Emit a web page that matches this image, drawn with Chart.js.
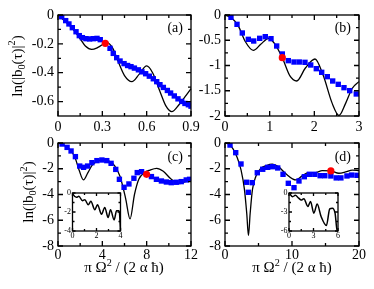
<!DOCTYPE html>
<html><head><meta charset="utf-8">
<script src="https://cdn.jsdelivr.net/npm/chart.js@4.4.0/dist/chart.umd.min.js"></script>
<style>
html,body{margin:0;padding:0;background:#fff;width:374px;height:289px;overflow:hidden}
canvas{position:absolute;left:0;top:0}
</style></head><body>
<canvas id="pa" width="374" height="289"></canvas>
<canvas id="pb" width="374" height="289"></canvas>
<canvas id="pc" width="374" height="289"></canvas>
<canvas id="pd" width="374" height="289"></canvas>
<canvas id="ic" width="374" height="289"></canvas>
<canvas id="id" width="374" height="289"></canvas>
<script>
// ---------- Panel (a) ----------
const aSqX = [0.025,0.052,0.074,0.097,0.122,0.144,0.165,0.189,0.214,0.239,0.264,0.286,0.352,0.374,0.397,0.42,0.447,0.471,0.494,0.517,0.544,0.568,0.593,0.618,0.645,0.668,0.69,0.713,0.74,0.762,0.787,0.812,0.837,0.859,0.882,0.9];
const aSqY = [-0.012,-0.039,-0.062,-0.088,-0.116,-0.143,-0.157,-0.164,-0.166,-0.164,-0.162,-0.171,-0.231,-0.266,-0.296,-0.319,-0.337,-0.35,-0.358,-0.368,-0.38,-0.394,-0.407,-0.424,-0.442,-0.462,-0.483,-0.502,-0.523,-0.541,-0.561,-0.581,-0.599,-0.613,-0.622,-0.632];
const aCurveX = [0,0.05,0.1,0.15,0.185,0.228,0.27,0.33,0.37,0.41,0.45,0.5,0.55,0.6,0.64,0.69,0.73,0.77,0.82,0.86,0.9];
const aCurveY = [0,-0.045,-0.095,-0.165,-0.215,-0.238,-0.225,-0.192,-0.23,-0.33,-0.42,-0.462,-0.41,-0.353,-0.4,-0.53,-0.63,-0.67,-0.62,-0.566,-0.51];
const aRed = [0.32, -0.196];
const aXTicks = [0, 0.3, 0.6, 0.9];
const aYTicks = [0, -0.2, -0.4, -0.6];

// ---------- Panel (b) ----------
const bSqX = [0.134,0.269,0.387,0.522,0.643,0.777,0.902,1.03,1.157,1.283,1.417,1.545,1.663,1.791,1.919,2.044,2.165,2.29,2.411,2.536,2.664,2.792,2.939];
const bSqY = [-0.046,-0.185,-0.356,-0.482,-0.515,-0.462,-0.429,-0.469,-0.614,-0.772,-0.904,-0.931,-0.931,-0.937,-0.99,-1.063,-1.135,-1.221,-1.307,-1.373,-1.439,-1.498,-1.564];
const bCurveX = [0,0.15,0.3,0.45,0.634,0.8,0.98,1.12,1.283,1.45,1.605,1.8,2.015,2.2,2.4,2.552,2.7,2.85,3.0];
const bCurveY = [0,-0.06,-0.22,-0.52,-0.7,-0.58,-0.46,-0.58,-0.845,-1.2,-1.307,-1.05,-0.871,-1.2,-1.75,-1.99,-1.75,-1.45,-1.32];
const bRed = [1.283, -0.845];
const bXTicks = [0, 1, 2, 3];
const bYTicks = [0, -0.5, -1, -1.5, -2];

// ---------- Panel (c) ----------
const cSqX = [0.37,0.82,1.18,1.57,1.96,2.31,2.67,3.06,3.51,3.96,4.40,4.79,5.21,5.54,5.96,6.40,6.85,7.15,7.54,8.43,8.88,9.33,9.78,10.22,10.67,11.12,11.57,11.87];
const cSqY = [-0.08,-0.34,-0.62,-1.06,-1.79,-1.89,-1.79,-1.53,-1.37,-1.32,-1.37,-1.58,-2.05,-2.82,-3.44,-3.18,-2.74,-2.30,-2.23,-2.61,-2.82,-2.95,-3.03,-3.08,-3.05,-3.0,-2.87,-2.82];
const cCurveX = [0,0.5,1,1.5,1.9,2.3,2.7,3.1,3.6,4.1,4.6,5.1,5.6,6.1,6.5,6.9,7.3,7.8,8.3,8.9,9.5,10.2,10.97,11.5,12];
const cCurveY = [0,-0.15,-0.45,-1.05,-2.1,-2.87,-2.3,-1.7,-1.4,-1.3,-1.4,-1.75,-2.6,-4.3,-5.9,-4.0,-2.8,-2.3,-2.1,-1.97,-2.2,-2.8,-3.15,-3.0,-2.85];
const cRed = [7.99, -2.43];
const cXTicks = [0, 4, 8, 12];
const cYTicks = [0, -2, -4, -6, -8];

// ---------- Panel (d) ----------
const dSqX = [0.75,1.6,2.39,3.24,3.48,4.08,4.82,5.63,6.37,7.12,7.87,8.66,9.45,10.3,11.04,11.84,12.6,13.4,14.2,14.9,15.8,16.6,17.3,18.2,18.9,19.7];
const dSqY = [-0.16,-0.75,-1.63,-3.05,-3.83,-3.08,-2.31,-2.04,-1.89,-1.84,-1.94,-2.43,-3.13,-3.47,-2.95,-2.62,-2.43,-2.43,-2.54,-2.54,-2.56,-2.71,-2.71,-2.56,-2.49,-2.51];
const dCurveX = [0,0.6,1.2,1.8,2.4,2.9,3.25,3.5,3.75,4.1,4.6,5.3,6.2,7.06,8,9,10.6,11.5,12.5,13.5,14.5,15.8,17,18,19,20];
const dCurveY = [0,-0.1,-0.45,-1.1,-2.1,-3.6,-5.5,-7.2,-5.5,-3.6,-2.6,-2.0,-1.75,-1.65,-1.85,-2.35,-2.87,-2.55,-2.3,-2.3,-2.15,-2.17,-2.35,-2.25,-2.1,-2.15];
const dRed = [15.8, -2.17];
const dXTicks = [0, 10, 20];
const dYTicks = [0, -2, -4, -6, -8];

// ---------- Insets ----------
const icX = [0,0.06,0.33,0.53,0.83,1.03,1.31,1.53,1.86,2.08,2.42,2.69,2.97,3.17,3.47,3.67,3.89,4.0];
const icY = [0,-0.18,-0.46,-0.35,-0.81,-0.71,-1.24,-0.88,-1.77,-1.24,-2.23,-1.52,-2.58,-1.77,-2.83,-1.88,-1.88,-3.9];
const icXTicks = [0, 2, 4];
const icYTicks = [0, -2, -4];
const idX = [0,0.04,0.45,0.77,1.18,1.5,1.82,2.31,2.64,3.04,3.45,3.93,4.58,4.99,5.31,5.64,5.88,6.0];
const idY = [0,-0.05,-0.58,-0.37,-0.8,-1.12,-0.9,-2.12,-1.33,-3.19,-1.75,-3.72,-5.15,-2.5,-2.39,-3.19,-5.84,-6.0];
const idXTicks = [0, 3, 6];
const idYTicks = [0, -3, -6];

const W = 374, H = 289;
const FONT = "'Liberation Serif','Times New Roman',serif";
const pts = (xs, ys) => xs.map((x, i) => ({x, y: ys[i]}));

function drawRich(ctx, parts, size) {
  const small = size * 0.68;
  const widths = parts.map(([t, m]) => { ctx.font = (m ? small : size) + 'px ' + FONT; return ctx.measureText(t).width; });
  const total = widths.reduce((s, w) => s + w, 0);
  let x = -total / 2;
  parts.forEach(([t, m], i) => {
    ctx.font = (m ? small : size) + 'px ' + FONT;
    const dy = m === 1 ? size * 0.22 : (m === -1 ? -size * 0.42 : 0);
    ctx.fillText(t, x, dy);
    x += widths[i];
  });
}
const X_TITLE = [['π Ω', 0], ['2', -1], [' / (2 α ħ)', 0]];
const Y_TITLE = [['ln(|b', 0], ['0', 1], ['(τ)|', 0], ['2', -1], [')', 0]];

function minorsOf(ticks) {
  const out = [];
  for (let i = 0; i < ticks.length - 1; i++) out.push((ticks[i] + ticks[i + 1]) / 2);
  return out;
}

const framePlugin = {
  id: 'frame',
  beforeDraw(chart, args, o) {
    if (o.bg) {
      const a = chart.chartArea, ctx = chart.ctx;
      ctx.save(); ctx.fillStyle = o.bg; ctx.fillRect(a.left, a.top, a.width, a.height); ctx.restore();
    }
  },
  afterDraw(chart, args, o) {
    const {ctx, chartArea: a, scales: {x, y}} = chart;
    ctx.save();
    ctx.strokeStyle = '#000';
    ctx.lineWidth = o.lw;
    ctx.beginPath();
    const tx = (vals, len) => vals.forEach(v => {
      const p = x.getPixelForValue(v);
      ctx.moveTo(p, a.bottom); ctx.lineTo(p, a.bottom - len);
      ctx.moveTo(p, a.top); ctx.lineTo(p, a.top + len);
    });
    const ty = (vals, len) => vals.forEach(v => {
      const p = y.getPixelForValue(v);
      ctx.moveTo(a.left, p); ctx.lineTo(a.left + len, p);
      ctx.moveTo(a.right, p); ctx.lineTo(a.right - len, p);
    });
    tx(o.xMajor, o.maj); tx(minorsOf(o.xMajor), o.min);
    ty(o.yMajor, o.maj); ty(minorsOf(o.yMajor), o.min);
    ctx.stroke();
    ctx.strokeRect(a.left, a.top, a.width, a.height);
    ctx.fillStyle = '#000';
    if (o.label) {
      ctx.font = '14px ' + FONT;
      ctx.textAlign = 'right'; ctx.textBaseline = 'middle';
      ctx.fillText(o.label, a.right - 8, a.top + o.labelDy);
    }
    ctx.textAlign = 'left'; ctx.textBaseline = 'alphabetic';
    if (o.yTitle) {
      ctx.save(); ctx.translate(o.yTitle[0], o.yTitle[1]); ctx.rotate(-Math.PI / 2);
      drawRich(ctx, Y_TITLE, 15); ctx.restore();
    }
    if (o.xTitle) {
      ctx.save(); ctx.translate(o.xTitle[0], o.xTitle[1]);
      drawRich(ctx, X_TITLE, 15); ctx.restore();
    }
    ctx.restore();
  }
};

function makePanel(id, box, xr, yr, xTicks, yTicks, datasets, f, fontSize, yw, xh, pad) {
  return new Chart(document.getElementById(id), {
    type: 'scatter',
    data: {datasets},
    plugins: [framePlugin],
    options: {
      responsive: false, animation: false, devicePixelRatio: 1,
      events: [],
      layout: {padding: {left: box.l - yw, right: W - box.r, top: box.t, bottom: H - box.b - xh}},
      plugins: {legend: {display: false}, tooltip: {enabled: false},
        frame: Object.assign({xMajor: xTicks, yMajor: yTicks}, f)},
      scales: {
        x: {type: 'linear', min: xr[0], max: xr[1],
          afterFit: s => { s.height = xh; },
          afterBuildTicks: s => { s.ticks = xTicks.map(v => ({value: v})); },
          ticks: {font: {family: FONT, size: fontSize}, color: '#000', padding: pad[0], maxRotation: 0, autoSkip: false, callback: v => String(v)},
          grid: {display: false, drawTicks: false}, border: {display: false}},
        y: {type: 'linear', min: yr[0], max: yr[1],
          afterFit: s => { s.width = yw; },
          afterBuildTicks: s => { s.ticks = yTicks.map(v => ({value: v})); },
          ticks: {font: {family: FONT, size: fontSize}, color: '#000', padding: pad[1], autoSkip: false, callback: v => String(v)},
          grid: {display: false, drawTicks: false}, border: {display: false}}
      }
    }
  });
}

function mainSets(cx, cy, sx, sy, red) {
  return [
    {type: 'line', data: pts(cx, cy), borderColor: '#000', borderWidth: 1.3, pointRadius: 0, cubicInterpolationMode: 'monotone', fill: false, order: 3, clip: 1},
    {data: pts(sx, sy), pointStyle: 'rect', pointRadius: 3.8, backgroundColor: '#0000ff', borderWidth: 0, showLine: false, order: 2, clip: 0},
    {data: [{x: red[0], y: red[1]}], pointStyle: 'circle', pointRadius: 3.6, backgroundColor: '#ff0000', borderWidth: 0, showLine: false, order: 1, clip: 0}
  ];
}

const mainF = {lw: 1.3, maj: 5, min: 3};
const TOP = {t: 15, b: 116}, BOT = {t: 143, b: 246};
const LEFT = {l: 58, r: 191}, RIGHT = {l: 225, r: 359};

makePanel('pa', Object.assign({}, LEFT, TOP), [0, 0.9], [-0.7, 0], aXTicks, aYTicks,
  mainSets(aCurveX, aCurveY, aSqX, aSqY, aRed),
  Object.assign({label: '(a)', labelDy: 13, yTitle: [21.5, 66]}, mainF), 14, 52, 26, [3, 4]);
makePanel('pb', Object.assign({}, RIGHT, TOP), [0, 3], [-2, 0], bXTicks, bYTicks,
  mainSets(bCurveX, bCurveY, bSqX, bSqY, bRed),
  Object.assign({label: '(b)', labelDy: 13}, mainF), 14, 52, 26, [3, 4]);
makePanel('pc', Object.assign({}, LEFT, BOT), [0, 12], [-8, 0], cXTicks, cYTicks,
  mainSets(cCurveX, cCurveY, cSqX, cSqY, cRed),
  Object.assign({label: '(c)', labelDy: 14.5, yTitle: [33, 192], xTitle: [124, 272]}, mainF), 14, 52, 22, [1, 4]);
makePanel('pd', Object.assign({}, RIGHT, BOT), [0, 20], [-8, 0], dXTicks, dYTicks,
  mainSets(dCurveX, dCurveY, dSqX, dSqY, dRed),
  Object.assign({label: '(d)', labelDy: 14.5, xTitle: [292, 272]}, mainF), 14, 52, 22, [1, 4]);

const insetF = {lw: 1.3, maj: 3, min: 2, bg: '#fff'};
const insetLine = (xs, ys) => [{type: 'line', data: pts(xs, ys), borderColor: '#000', borderWidth: 1.5, pointRadius: 0, cubicInterpolationMode: 'monotone', fill: false, clip: 1}];
makePanel('ic', {l: 72.5, r: 120.5, t: 193, b: 231}, [0, 4], [-4, 0], icXTicks, icYTicks,
  insetLine(icX, icY), insetF, 8, 22, 14, [0, 1.5]);
makePanel('id', {l: 289, r: 338, t: 193, b: 231}, [0, 6], [-6, 0], idXTicks, idYTicks,
  insetLine(idX, idY), insetF, 8, 22, 14, [0, 1.5]);
</script>
</body></html>
